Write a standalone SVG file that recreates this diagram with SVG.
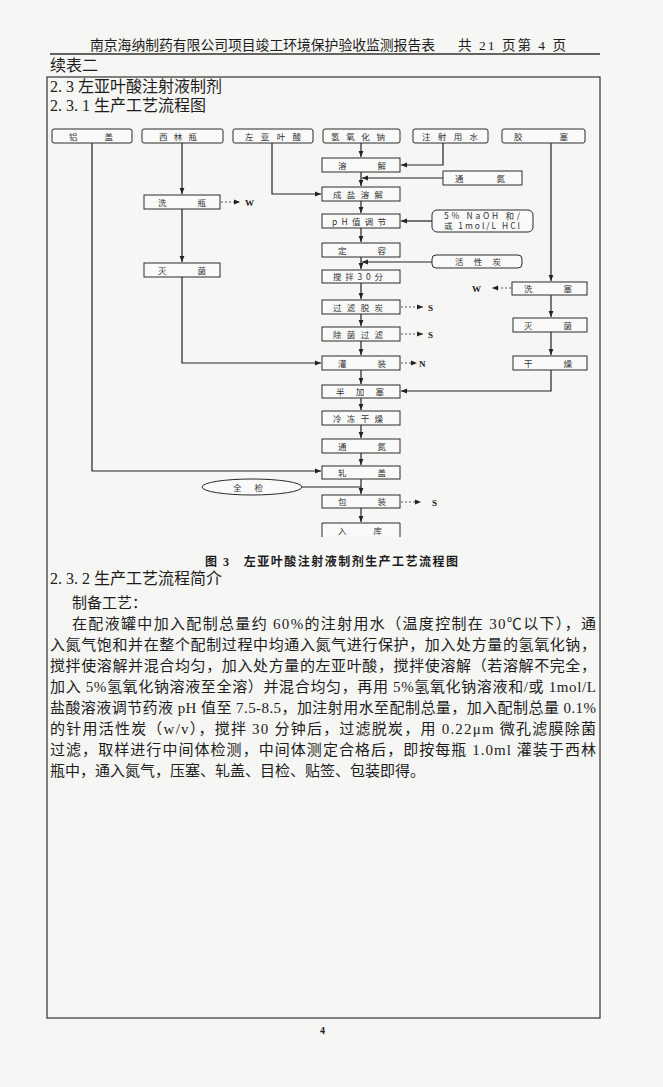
<svg xmlns="http://www.w3.org/2000/svg" width="663" height="1087" viewBox="0 0 663 1087">
<style>
.bg{fill:#f6f6f4}
.t{font-family:"Liberation Serif","Noto Sans CJK SC",serif;fill:#1c1c1c}
.h{font-size:13.5px}
.sec{font-size:16px}
.body{font-size:15px}
.cap{font-size:12px;font-weight:bold}
.box{fill:#fafafa;stroke:#2a2a2a;stroke-width:1}
.lbl{font-family:"Noto Sans CJK SC","Liberation Sans",sans-serif;font-size:8.5px;fill:#333;text-anchor:middle}
.out{font-family:"Liberation Serif",serif;font-size:9px;font-weight:bold;fill:#222}
.ln{fill:none;stroke:#222;stroke-width:1.2}
.dl{fill:none;stroke:#444;stroke-width:0.9;stroke-dasharray:2 2}
</style>
<defs>
<marker id="ar" viewBox="0 0 10 10" refX="10" refY="5" markerWidth="6" markerHeight="6" markerUnits="userSpaceOnUse" orient="auto"><path d="M0,1 L10,5 L0,9 z" fill="#222"/></marker>
</defs>
<rect class="bg" x="0" y="0" width="663" height="1087"/>
<text class="t h" x="90" y="50" textLength="345" lengthAdjust="spacingAndGlyphs">南京海纳制药有限公司项目竣工环境保护验收监测报告表</text>
<text class="t h" x="458" y="50" textLength="108" lengthAdjust="spacing">共 21 页第 4 页</text>
<line x1="50" y1="54" x2="600" y2="54" stroke="#333" stroke-width="1.3"/>
<text class="t sec" x="50" y="71">续表二</text>
<rect x="47" y="77" width="553" height="941" fill="none" stroke="#333" stroke-width="1.2"/>
<text class="t sec" x="50" y="92">2. 3 左亚叶酸注射液制剂</text>
<text class="t sec" x="50" y="111">2. 3. 1 生产工艺流程图</text>

<g id="connectors">
<path class="ln" d="M92,143 V471 H321" marker-end="url(#ar)"/>
<path class="ln" d="M182,143 V194" marker-end="url(#ar)"/>
<path class="dl" d="M221,202 H240" marker-end="url(#ar)"/>
<path class="ln" d="M182,209 V262" marker-end="url(#ar)"/>
<path class="ln" d="M182,277 V363 H321" marker-end="url(#ar)"/>
<path class="ln" d="M272,143 V194 H321" marker-end="url(#ar)"/>
<path class="ln" d="M361,143 V157" marker-end="url(#ar)"/>
<path class="ln" d="M443,143 V165 H401" marker-end="url(#ar)"/>
<path class="ln" d="M443,178 H362" marker-end="url(#ar)"/>
<path class="ln" d="M361,172 V186" marker-end="url(#ar)"/>
<path class="ln" d="M361,201 V213" marker-end="url(#ar)"/>
<path class="ln" d="M432,221 H401" marker-end="url(#ar)"/>
<path class="ln" d="M361,228 V242" marker-end="url(#ar)"/>
<path class="ln" d="M361,257 V269" marker-end="url(#ar)"/>
<path class="ln" d="M432,262 H362" marker-end="url(#ar)"/>
<path class="ln" d="M361,283 V299" marker-end="url(#ar)"/>
<path class="dl" d="M401,307 H423" marker-end="url(#ar)"/>
<path class="ln" d="M361,314 V326" marker-end="url(#ar)"/>
<path class="dl" d="M401,334 H423" marker-end="url(#ar)"/>
<path class="ln" d="M361,341 V355" marker-end="url(#ar)"/>
<path class="dl" d="M401,363 H417" marker-end="url(#ar)"/>
<path class="ln" d="M361,370 V384" marker-end="url(#ar)"/>
<path class="ln" d="M551,143 V281" marker-end="url(#ar)"/>
<path class="dl" d="M511,288 H492" marker-end="url(#ar)"/>
<path class="ln" d="M551,295 V317" marker-end="url(#ar)"/>
<path class="ln" d="M551,332 V355" marker-end="url(#ar)"/>
<path class="ln" d="M551,370 V391 H401" marker-end="url(#ar)"/>
<path class="ln" d="M361,398 V410" marker-end="url(#ar)"/>
<path class="ln" d="M361,425 V438" marker-end="url(#ar)"/>
<path class="ln" d="M361,453 V465" marker-end="url(#ar)"/>
<path class="ln" d="M361,479 V494" marker-end="url(#ar)"/>
<path class="ln" d="M302,487 H361"/>
<path class="dl" d="M401,502 H421" marker-end="url(#ar)"/>
<path class="ln" d="M361,508 V522" marker-end="url(#ar)"/>
</g>

<g id="outputs">
<text class="out" x="245" y="206">W</text>
<text class="out" x="472" y="292">W</text>
<text class="out" x="428" y="311">S</text>
<text class="out" x="428" y="338">S</text>
<text class="out" x="419" y="367">N</text>
<text class="out" x="432" y="506">S</text>
</g>

<g id="n-lvgai"><rect class="box" x="52" y="129" width="80" height="14" rx="2"/><text class="lbl" x="91" y="139.5" textLength="44" lengthAdjust="spacing">铝盖</text></g>
<g id="n-xilinping"><rect class="box" x="142" y="129" width="81" height="14" rx="2"/><text class="lbl" x="178" y="139.5" textLength="38" lengthAdjust="spacing">西林瓶</text></g>
<g id="n-zuoyayesuan"><rect class="box" x="233" y="129" width="80" height="14" rx="2"/><text class="lbl" x="273" y="139.5" textLength="56" lengthAdjust="spacing">左亚叶酸</text></g>
<g id="n-naoh"><rect class="box" x="323" y="129" width="77" height="14" rx="2"/><text class="lbl" x="358" y="139.5" textLength="54" lengthAdjust="spacing">氢氧化钠</text></g>
<g id="n-water"><rect class="box" x="413" y="129" width="75" height="14" rx="2"/><text class="lbl" x="450" y="139.5" textLength="56" lengthAdjust="spacing">注射用水</text></g>
<g id="n-jiaosai"><rect class="box" x="502" y="129" width="83" height="14" rx="2"/><text class="lbl" x="541" y="139.5" textLength="54" lengthAdjust="spacing">胶塞</text></g>

<g id="n-xiping"><rect class="box" x="144" y="195" width="76" height="14"/><text class="lbl" x="182" y="205.5" textLength="48" lengthAdjust="spacing">洗瓶</text></g>
<g id="n-miejun1"><rect class="box" x="144" y="263" width="76" height="14"/><text class="lbl" x="182" y="273.5" textLength="48" lengthAdjust="spacing">灭菌</text></g>

<g id="n-rongjie"><rect class="box" x="322" y="158" width="78" height="14"/><text class="lbl" x="362" y="168.5" textLength="48" lengthAdjust="spacing">溶解</text></g>
<g id="n-tongdan1"><rect class="box" x="443" y="171" width="79" height="14"/><text class="lbl" x="480" y="181.5" textLength="50" lengthAdjust="spacing">通氮</text></g>
<g id="n-chengyan"><rect class="box" x="322" y="187" width="78" height="14"/><text class="lbl" x="358" y="197.5" textLength="50" lengthAdjust="spacing">成盐溶解</text></g>
<g id="n-ph"><rect class="box" x="322" y="214" width="78" height="14"/><text class="lbl" x="359" y="224.5" textLength="54" lengthAdjust="spacing">pH值调节</text></g>
<g id="n-naohhcl"><rect class="box" x="432" y="210" width="101" height="22" rx="5"/><text class="lbl" x="482" y="219" textLength="76" lengthAdjust="spacing">5% NaOH 和/</text><text class="lbl" x="482" y="229" textLength="76" lengthAdjust="spacing">或 1mol/L HCl</text></g>
<g id="n-dingrong"><rect class="box" x="322" y="243" width="78" height="14"/><text class="lbl" x="362" y="253.5" textLength="48" lengthAdjust="spacing">定容</text></g>
<g id="n-huoxingtan"><rect class="box" x="432" y="255" width="90" height="13" rx="4"/><text class="lbl" x="478" y="265" textLength="46" lengthAdjust="spacing">活性炭</text></g>
<g id="n-jiaoban"><rect class="box" x="322" y="270" width="78" height="13"/><text class="lbl" x="358" y="280" textLength="50" lengthAdjust="spacing">搅拌30分</text></g>
<g id="n-guolv"><rect class="box" x="322" y="300" width="78" height="14"/><text class="lbl" x="358" y="310.5" textLength="50" lengthAdjust="spacing">过滤脱炭</text></g>
<g id="n-chujun"><rect class="box" x="322" y="327" width="78" height="14"/><text class="lbl" x="358" y="337.5" textLength="50" lengthAdjust="spacing">除菌过滤</text></g>
<g id="n-guanzhuang"><rect class="box" x="322" y="356" width="78" height="14"/><text class="lbl" x="362" y="366.5" textLength="48" lengthAdjust="spacing">灌装</text></g>
<g id="n-banjiasai"><rect class="box" x="322" y="385" width="78" height="13"/><text class="lbl" x="360" y="395" textLength="48" lengthAdjust="spacing">半加塞</text></g>
<g id="n-lengdong"><rect class="box" x="322" y="411" width="78" height="14"/><text class="lbl" x="358" y="421.5" textLength="50" lengthAdjust="spacing">冷冻干燥</text></g>
<g id="n-tongdan2"><rect class="box" x="322" y="439" width="78" height="14"/><text class="lbl" x="362" y="449.5" textLength="48" lengthAdjust="spacing">通氮</text></g>
<g id="n-zhagai"><rect class="box" x="322" y="466" width="78" height="13"/><text class="lbl" x="362" y="476" textLength="48" lengthAdjust="spacing">轧盖</text></g>
<g id="n-quanjian"><ellipse class="box" cx="252" cy="487" rx="50" ry="8"/><text class="lbl" x="248" y="490.5" textLength="30" lengthAdjust="spacing">全检</text></g>
<g id="n-baozhuang"><rect class="box" x="322" y="495" width="78" height="13"/><text class="lbl" x="362" y="505" textLength="48" lengthAdjust="spacing">包装</text></g>
<g id="n-ruku"><path class="box" d="M322,537 V523 H400 V537"/><text class="lbl" x="360" y="533.5" textLength="44" lengthAdjust="spacing">入库</text></g>

<g id="n-xisai"><rect class="box" x="512" y="282" width="75" height="13"/><text class="lbl" x="548" y="292" textLength="48" lengthAdjust="spacing">洗塞</text></g>
<g id="n-miejun2"><rect class="box" x="513" y="318" width="74" height="14"/><text class="lbl" x="548" y="328.5" textLength="48" lengthAdjust="spacing">灭菌</text></g>
<g id="n-ganzao"><rect class="box" x="513" y="356" width="74" height="14"/><text class="lbl" x="548" y="366.5" textLength="48" lengthAdjust="spacing">干燥</text></g>

<text class="t cap" x="205" y="566" textLength="253" lengthAdjust="spacing">图 3　左亚叶酸注射液制剂生产工艺流程图</text>
<text class="t sec" x="50" y="584">2. 3. 2 生产工艺流程简介</text>
<text class="t body" x="72" y="608">制备工艺：</text>
<text class="t body" x="72" y="629" textLength="524" lengthAdjust="spacing">在配液罐中加入配制总量约 60%的注射用水（温度控制在 30℃以下），通</text>
<text class="t body" x="50" y="650" textLength="546" lengthAdjust="spacing">入氮气饱和并在整个配制过程中均通入氮气进行保护，加入处方量的氢氧化钠，</text>
<text class="t body" x="50" y="671" textLength="546" lengthAdjust="spacing">搅拌使溶解并混合均匀，加入处方量的左亚叶酸，搅拌使溶解（若溶解不完全，</text>
<text class="t body" x="50" y="692" textLength="546" lengthAdjust="spacing">加入 5%氢氧化钠溶液至全溶）并混合均匀，再用 5%氢氧化钠溶液和/或 1mol/L</text>
<text class="t body" x="50" y="713" textLength="546" lengthAdjust="spacing">盐酸溶液调节药液 pH 值至 7.5-8.5，加注射用水至配制总量，加入配制总量 0.1%</text>
<text class="t body" x="50" y="734" textLength="546" lengthAdjust="spacing">的针用活性炭（w/v），搅拌 30 分钟后，过滤脱炭，用 0.22μm 微孔滤膜除菌</text>
<text class="t body" x="50" y="755" textLength="546" lengthAdjust="spacing">过滤，取样进行中间体检测，中间体测定合格后，即按每瓶 1.0ml 灌装于西林</text>
<text class="t body" x="50" y="776">瓶中，通入氮气，压塞、轧盖、目检、贴签、包装即得。</text>
<text class="t" x="320" y="1034" font-size="10" font-weight="bold">4</text>
</svg>
